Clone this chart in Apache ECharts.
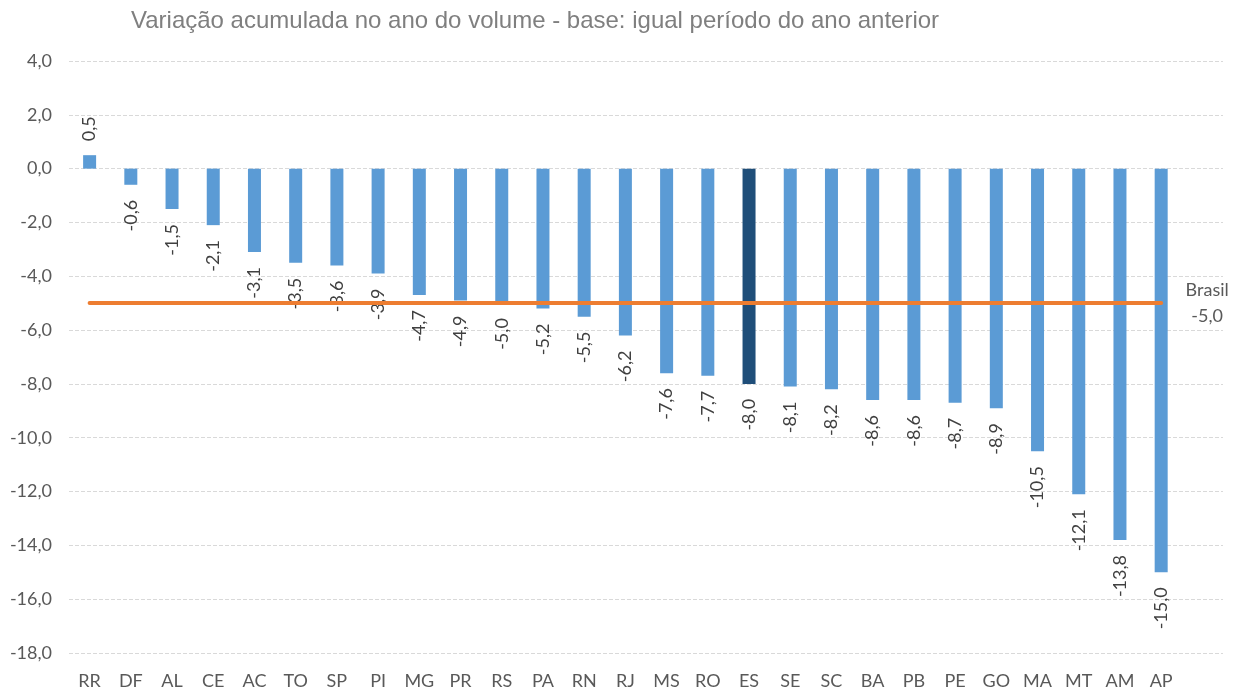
<!DOCTYPE html>
<html>
<head>
<meta charset="utf-8">
<script src="https://cdn.jsdelivr.net/npm/echarts@6/dist/echarts.min.js"></script>
<style>
  html, body { margin: 0; padding: 0; background: #fff; }
  #chart { width: 1239px; height: 697px; }
</style>
</head>
<body>
<div id="chart"></div>
<script>
var estados = ['RR', 'DF', 'AL', 'CE', 'AC', 'TO', 'SP', 'PI', 'MG', 'PR', 'RS', 'PA', 'RN', 'RJ',
    'MS', 'RO', 'ES', 'SE', 'SC', 'BA', 'PB', 'PE', 'GO', 'MA', 'MT', 'AM', 'AP'];
var variacao = [0.5, -0.6, -1.5, -2.1, -3.1, -3.5, -3.6, -3.9, -4.7, -4.9, -5.0, -5.2, -5.5, -6.2,
    -7.6, -7.7, -8.0, -8.1, -8.2, -8.6, -8.6, -8.7, -8.9, -10.5, -12.1, -13.8, -15.0];
var brasil = -5.0;
var destaque = 'ES';
var yTicks = { min: -18, max: 4, interval: 2 };

function fmt(v) {
    return v.toFixed(1).replace('.', ',');
}

var chartDom = document.getElementById('chart');
var myChart = echarts.init(chartDom);
var option;

// uma categoria vazia no fim para o rótulo "Brasil"
var categorias = estados.concat(['']);

var barData = variacao.map(function (v, i) {
    var item = { value: v };
    if (estados[i] === destaque) {
        item.itemStyle = { color: '#1F4E79' };
    }
    if (v >= 0) {
        item.label = { position: 'top', align: 'left', distance: 14 };
    }
    return item;
});

option = {
    animation: false,
    textStyle: { fontFamily: 'Lato, "Liberation Sans", sans-serif' },
    title: {
        text: 'Variação acumulada no ano do volume - base: igual período do ano anterior',
        left: 126,
        top: 4,
        textStyle: {
            fontFamily: '"Liberation Sans", Arial, sans-serif',
            fontSize: 24,
            fontWeight: 'normal',
            color: '#7f7f7f'
        }
    },
    grid: { left: 69, right: 16, top: 61, bottom: 44, containLabel: false },
    xAxis: {
        type: 'category',
        data: categorias,
        axisLine: { show: false },
        axisTick: { show: false },
        axisLabel: { color: '#595959', fontSize: 18, margin: 19, interval: 0 }
    },
    yAxis: {
        type: 'value',
        min: yTicks.min,
        max: yTicks.max,
        interval: yTicks.interval,
        axisLine: { show: false },
        axisTick: { show: false },
        axisLabel: {
            color: '#595959',
            fontSize: 18,
            margin: 17,
            formatter: function (v) { return fmt(v); }
        },
        splitLine: { lineStyle: { color: '#d9d9d9', type: [4, 2], width: 1 } }
    },
    series: [{
        type: 'bar',
        data: barData,
        barWidth: 13,
        itemStyle: { color: '#5B9BD5' },
        label: {
            show: true,
            position: 'outside',
            rotate: 90,
            align: 'right',
            verticalAlign: 'middle',
            distance: 15,
            fontSize: 18,
            color: '#404040',
            formatter: function (p) { return fmt(p.value); }
        },
        markLine: {
            silent: true,
            symbol: 'none',
            animation: false,
            lineStyle: { color: '#ED7D31', width: 4, type: 'solid', cap: 'round' },
            label: {
                show: true,
                position: 'end',
                distance: 46,
                align: 'center',
                lineHeight: 26,
                fontSize: 18,
                color: '#595959',
                formatter: 'Brasil\n' + fmt(brasil)
            },
            data: [[
                { coord: [estados[0], brasil] },
                { coord: [estados[estados.length - 1], brasil] }
            ]]
        }
    }]
};

option && myChart.setOption(option);
</script>
</body>
</html>
